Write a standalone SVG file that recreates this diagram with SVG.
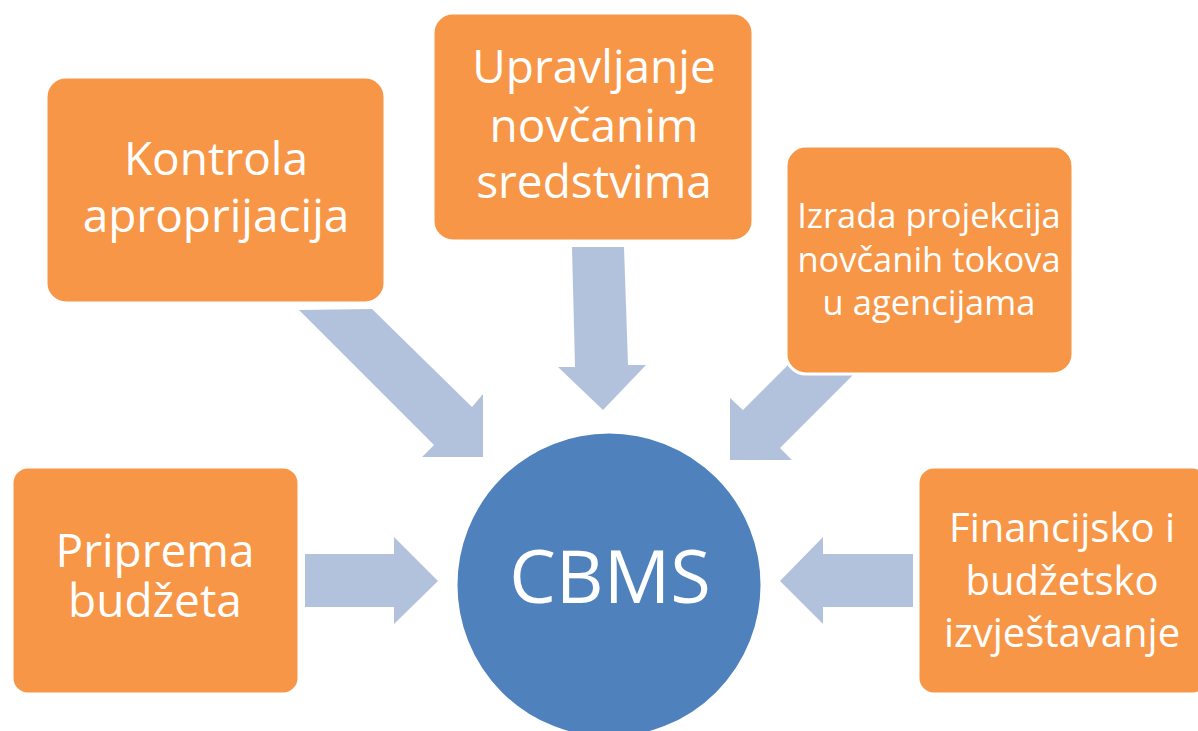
<svg xmlns="http://www.w3.org/2000/svg" width="1198" height="731" viewBox="0 0 1198 731">
<style>
.box{fill:#F79646;stroke:#FFFFFF;stroke-width:3}
.arr{fill:#B3C2DC}
.t{font-family:"Open Sans","Liberation Sans",sans-serif;fill:#FFFFFF;text-anchor:middle}
</style>
<rect width="1198" height="731" fill="#FFFFFF"/>
<g id="connectors">
<polygon class="arr" points="299,310 372,309 472,407 483,394 483,457 422,457 434,445"/>
<polygon class="arr" points="572,247 624,247 628,365 646,365 603,410 558,367 575,367"/>
<polygon class="arr" points="830,323 868,360 780,448 792,460 730,460 730,398 743,410"/>
<polygon class="arr" points="305,554 394,554 394,537 438,581 394,624 394,607 305,607"/>
<polygon class="arr" points="913,554 823,554 823,537 780,581 823,624 823,607 913,607"/>
</g>
<g id="kontrola">
<rect class="box" x="46" y="77" width="339" height="226" rx="20"/>
<text class="t" font-size="46"><tspan x="216" y="175">Kontrola</tspan><tspan x="216" y="232">aproprijacija</tspan></text>
</g>
<g id="upravljanje">
<rect class="box" x="433" y="13" width="320" height="228" rx="20"/>
<text class="t" font-size="46"><tspan x="594" y="83">Upravljanje</tspan><tspan x="594" y="142">novčanim</tspan><tspan x="594" y="198">sredstvima</tspan></text>
</g>
<g id="izrada">
<rect class="box" x="786" y="146" width="287" height="228" rx="20"/>
<text class="t" font-size="34.5"><tspan x="929" y="228">Izrada projekcija</tspan><tspan x="929" y="272">novčanih tokova</tspan><tspan x="929" y="315">u agencijama</tspan></text>
</g>
<g id="priprema">
<rect class="box" x="12" y="467" width="287" height="227" rx="16"/>
<text class="t" font-size="46"><tspan x="155" y="567">Priprema</tspan><tspan x="155" y="617">budžeta</tspan></text>
</g>
<g id="financijsko">
<rect class="box" x="918" y="467" width="290" height="227" rx="16"/>
<text class="t" font-size="40"><tspan x="1062" y="542">Financijsko i</tspan><tspan x="1062" y="595">budžetsko</tspan><tspan x="1062" y="647">izvještavanje</tspan></text>
</g>
<g id="cbms">
<circle cx="609" cy="585" r="153" fill="#4F81BD" stroke="#FFFFFF" stroke-width="3"/>
<text class="t" font-size="74" x="610" y="603">CBMS</text>
</g>
</svg>
